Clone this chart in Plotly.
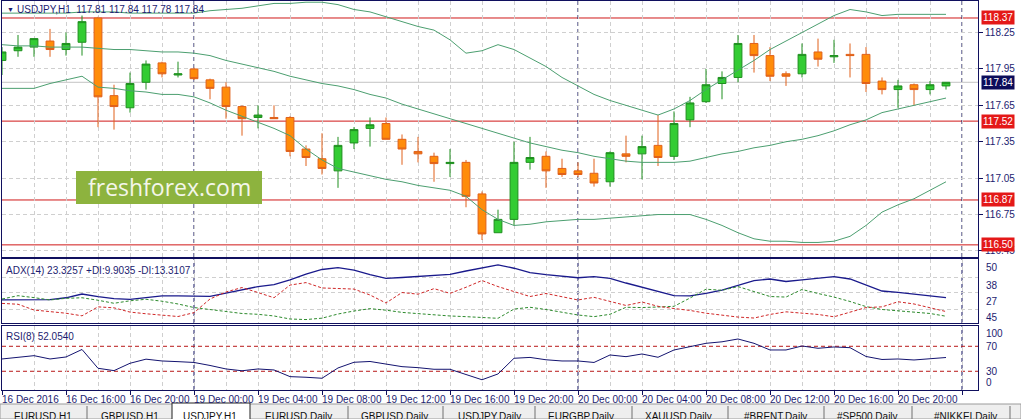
import numpy as np
import plotly.graph_objects as go

# USDJPY H1, one candle per hour, 16 Dec 2016 12:00 .. 20 Dec 2016 23:00
open_ = [118.02, 118.10, 118.13, 118.18, 118.11, 118.17, 118.37, 117.73, 117.63, 117.84,
         118.00, 117.90, 117.95, 117.86, 117.80, 117.64, 117.55, 117.55, 117.55, 117.29,
         117.21, 117.11, 117.34, 117.46, 117.50, 117.37, 117.27, 117.23, 117.17, 117.18,
         116.92, 116.60, 116.71, 117.18, 117.23, 117.13, 117.11, 117.09, 117.02, 117.25,
         117.25, 117.32, 117.23, 117.53, 117.68, 117.83, 117.88, 118.16, 118.06, 117.91,
         117.91, 118.09, 118.05, 118.07, 118.07, 117.85, 117.78, 117.82, 117.78, 117.81]
high = [118.13, 118.23, 118.20, 118.28, 118.25, 118.39, 118.38, 117.82, 117.92, 118.02,
        118.01, 118.01, 117.96, 117.87, 117.84, 117.65, 117.65, 117.65, 117.56, 117.32,
        117.42, 117.39, 117.47, 117.55, 117.55, 117.41, 117.39, 117.26, 117.29, 117.20,
        116.94, 116.79, 117.35, 117.39, 117.27, 117.21, 117.18, 117.21, 117.27, 117.40,
        117.40, 117.57, 117.60, 117.72, 117.95, 117.93, 118.23, 118.23, 118.13, 117.93,
        118.16, 118.20, 118.19, 118.16, 118.13, 117.88, 117.86, 117.83, 117.85, 117.84]
low = [117.90, 118.05, 118.05, 118.05, 118.06, 118.06, 117.47, 117.45, 117.59, 117.78,
       117.88, 117.88, 117.86, 117.70, 117.54, 117.40, 117.46, 117.54, 117.23, 117.15,
       117.08, 116.97, 117.29, 117.31, 117.37, 117.16, 117.18, 117.02, 117.06, 116.81,
       116.54, 116.60, 116.66, 117.12, 116.97, 117.06, 117.06, 116.98, 116.98, 117.18,
       117.04, 117.15, 117.20, 117.47, 117.67, 117.70, 117.84, 117.92, 117.85, 117.81,
       117.88, 117.97, 118.00, 117.88, 117.76, 117.74, 117.63, 117.65, 117.74, 117.78]
close = [118.09, 118.13, 118.20, 118.11, 118.16, 118.34, 117.72, 117.64, 117.83, 117.99,
         117.91, 117.91, 117.87, 117.79, 117.64, 117.54, 117.57, 117.54, 117.27, 117.22,
         117.13, 117.32, 117.45, 117.49, 117.37, 117.29, 117.25, 117.17, 117.18, 116.90,
         116.59, 116.71, 117.18, 117.22, 117.11, 117.08, 117.08, 117.01, 117.26, 117.23,
         117.31, 117.22, 117.50, 117.67, 117.82, 117.88, 118.16, 118.06, 117.89, 117.89,
         118.07, 118.03, 118.06, 118.06, 117.83, 117.78, 117.81, 117.78, 117.82, 117.84]

# Bollinger bands
bb_up = [118.41, 118.41, 118.41, 118.41, 118.41, 118.42, 118.42, 118.42, 118.41, 118.41,
         118.41, 118.41, 118.41, 118.43, 118.44, 118.45, 118.47, 118.49, 118.49, 118.50,
         118.50, 118.48, 118.44, 118.42, 118.38, 118.34, 118.30, 118.27, 118.19, 118.08,
         118.10, 118.15, 118.11, 118.04, 117.97, 117.88, 117.81, 117.74, 117.69, 117.65,
         117.61, 117.57, 117.62, 117.69, 117.78, 117.86, 117.94, 118.02, 118.11, 118.18,
         118.25, 118.32, 118.39, 118.44, 118.42, 118.39, 118.40, 118.40, 118.40, 118.40]
bb_mid = [118.15, 118.14, 118.14, 118.13, 118.13, 118.13, 118.12, 118.11, 118.11, 118.10,
          118.09, 118.09, 118.08, 118.06, 118.02, 117.99, 117.96, 117.93, 117.89, 117.86,
          117.83, 117.81, 117.78, 117.74, 117.71, 117.66, 117.62, 117.58, 117.54, 117.50,
          117.46, 117.42, 117.38, 117.34, 117.31, 117.28, 117.26, 117.23, 117.21, 117.19,
          117.18, 117.18, 117.18, 117.19, 117.22, 117.25, 117.27, 117.30, 117.32, 117.35,
          117.37, 117.40, 117.44, 117.49, 117.53, 117.59, 117.62, 117.65, 117.68, 117.71]
bb_low = [117.79, 117.79, 117.79, 117.83, 117.86, 117.89, 117.80, 117.79, 117.77, 117.76,
          117.74, 117.74, 117.72, 117.67, 117.61, 117.56, 117.51, 117.46, 117.40, 117.29,
          117.20, 117.13, 117.10, 117.07, 117.04, 117.02, 116.99, 116.97, 116.95, 116.90,
          116.79, 116.71, 116.66, 116.67, 116.69, 116.70, 116.71, 116.71, 116.72, 116.73,
          116.74, 116.75, 116.75, 116.75, 116.71, 116.66, 116.60, 116.55, 116.53, 116.53,
          116.52, 116.52, 116.53, 116.57, 116.66, 116.77, 116.83, 116.88, 116.95, 117.02]

# ADX(14)
adx = [21.7, 21.7, 21.7, 22.0, 23.3, 26.0, 24.2, 22.7, 22.2, 23.3,
       24.6, 24.6, 24.3, 24.3, 26.7, 29.3, 31.4, 32.8, 36.2, 40.5,
       43.8, 45.1, 43.4, 40.1, 37.4, 38.0, 38.7, 39.4, 40.3, 42.7,
       45.1, 47.2, 44.7, 41.6, 40.1, 39.1, 37.8, 38.6, 37.4, 34.0,
       31.1, 27.8, 24.9, 24.6, 26.4, 28.9, 32.5, 35.8, 36.9, 35.1,
       36.2, 37.2, 38.6, 36.9, 32.5, 28.2, 27.2, 26.0, 24.6, 23.33]
plus_di = [22.4, 24.8, 23.4, 21.7, 22.9, 23.3, 21.5, 19.3, 21.1, 22.2,
           20.8, 18.8, 16.2, 14.8, 13.3, 11.9, 11.3, 10.1, 7.9, 7.5,
           8.5, 11.5, 13.7, 15.4, 14.3, 12.7, 11.8, 10.8, 10.1, 9.6,
           9.1, 8.4, 15.1, 16.4, 14.8, 12.6, 10.8, 9.6, 11.3, 16.4,
           16.2, 16.6, 17.1, 23.1, 29.5, 28.7, 31.4, 27.8, 24.2, 23.8,
           29.3, 26.4, 23.8, 20.6, 16.9, 14.8, 13.7, 13.0, 11.9, 9.90]
minus_di = [19.2, 18.6, 14.4, 13.2, 12.1, 10.2, 16.7, 16.0, 12.9, 11.7,
            10.6, 9.7, 12.5, 22.4, 27.5, 30.7, 27.1, 23.3, 32.5, 34.3,
            30.4, 29.9, 29.6, 25.3, 19.5, 27.1, 25.9, 29.9, 26.5, 30.9,
            35.8, 31.4, 27.8, 24.2, 26.4, 23.8, 21.7, 23.6, 20.9, 17.7,
            20.2, 17.1, 15.5, 14.1, 12.1, 10.6, 9.3, 8.6, 11.2, 13.1,
            12.2, 11.2, 9.5, 12.9, 16.2, 16.7, 20.4, 18.8, 16.2, 13.31]

# RSI(8)
rsi = [49.7, 52.1, 55.0, 49.7, 52.9, 64.9, 34.8, 31.0, 42.8, 49.4,
       46.5, 45.4, 44.1, 39.3, 33.7, 30.8, 33.7, 32.1, 21.4, 20.4,
       18.8, 35.3, 44.4, 45.7, 41.4, 37.4, 35.8, 33.2, 33.2, 24.4,
       16.4, 25.7, 50.8, 52.2, 48.4, 46.5, 46.5, 44.1, 56.1, 53.4,
       57.7, 52.4, 64.1, 69.4, 74.8, 77.2, 81.7, 74.8, 64.1, 64.1,
       70.5, 66.8, 68.9, 67.8, 53.7, 48.9, 49.7, 48.1, 50.5, 52.05]

levels = [118.37, 117.52, 116.87, 116.50]
last_price = 117.84
price_ticks = [118.25, 117.95, 117.65, 117.35, 117.05, 116.75, 116.45]
day_breaks = [12, 36, 60]
time_labels = ['16 Dec 2016', '16 Dec 16:00', '16 Dec 20:00', '19 Dec 00:00', '19 Dec 04:00',
               '19 Dec 08:00', '19 Dec 12:00', '19 Dec 16:00', '19 Dec 20:00', '20 Dec 00:00',
               '20 Dec 04:00', '20 Dec 08:00', '20 Dec 12:00', '20 Dec 16:00', '20 Dec 20:00']
tabs = ['EURUSD,H1', 'GBPUSD,H1', 'USDJPY,H1', 'EURUSD,Daily', 'GBPUSD,Daily', 'USDJPY,Daily',
        'EURGBP,Daily', 'XAUUSD,Daily', '#BRENT,Daily', '#SP500,Daily', '#NIKKEI,Daily']

bar = np.arange(len(close))
tick_bars = list(range(0, len(close), 4))

W, H = 1021, 419
FONT = 'Liberation Sans'
NAVY = '#10105e'
TXT = '#1c1c70'


def px(x):
    return x / W


def py(y):
    return (H - y) / H


fig = go.Figure()

fig.add_trace(go.Candlestick(
    x=bar, open=open_, high=high, low=low, close=close,
    increasing=dict(line=dict(color='#1f8f1f', width=1), fillcolor='#33cc33'),
    decreasing=dict(line=dict(color='#e0601a', width=1), fillcolor='#ff8c0a'),
    whiskerwidth=0, xaxis='x', yaxis='y',
))
for band in (bb_up, bb_mid, bb_low):
    fig.add_trace(go.Scatter(x=bar, y=band, mode='lines', line=dict(color='#4c9f70', width=1),
                             xaxis='x', yaxis='y'))

fig.add_trace(go.Scatter(x=bar, y=adx, mode='lines', line=dict(color='#1a1a8c', width=1.3),
                         xaxis='x2', yaxis='y2'))
fig.add_trace(go.Scatter(x=bar, y=plus_di, mode='lines',
                         line=dict(color='#2e8b2e', width=1, dash='3px,2px'), xaxis='x2', yaxis='y2'))
fig.add_trace(go.Scatter(x=bar, y=minus_di, mode='lines',
                         line=dict(color='#d02828', width=1, dash='3px,2px'), xaxis='x2', yaxis='y2'))

fig.add_trace(go.Scatter(x=bar, y=rsi, mode='lines', line=dict(color='#141470', width=1),
                         xaxis='x3', yaxis='y3'))

grid = dict(showgrid=True, gridcolor='#cfcfcf', griddash='4px,3px', gridwidth=1)
frame = dict(showline=True, linecolor=NAVY, linewidth=1, mirror=True, zeroline=False)
xr = [0, 61]

fig.update_layout(
    width=W, height=H, margin=dict(l=0, r=0, t=0, b=0),
    paper_bgcolor='white', plot_bgcolor='white', showlegend=False,
    font=dict(family=FONT, size=10, color=TXT),
    xaxis=dict(domain=[px(2), px(978)], range=xr, anchor='y', tick0=0, dtick=2,
               showticklabels=False, ticks='', rangeslider=dict(visible=False), **grid, **frame),
    yaxis=dict(domain=[py(257), py(1)], range=[116.40, 118.51], anchor='x', side='right',
               tickvals=price_ticks, ticktext=['%.2f' % v for v in price_ticks],
               ticks='outside', ticklen=4, tickcolor=NAVY,
               tickfont=dict(family=FONT, size=10, color=TXT), **grid, **frame),
    xaxis2=dict(domain=[px(2), px(978)], range=xr, anchor='y2', tick0=0, dtick=2,
                showticklabels=False, ticks='', **grid, **frame),
    yaxis2=dict(domain=[py(323), py(259)], range=[5.0, 51.4], anchor='x2', side='right',
                tickvals=[38, 27, 15], showticklabels=False, ticks='', **grid, **frame),
    xaxis3=dict(domain=[px(2), px(978)], range=xr, anchor='y3', tick0=0, dtick=4,
                showticklabels=False, ticks='outside', ticklen=4, tickcolor=NAVY,
                minor=dict(dtick=2, tick0=0, showgrid=True, gridcolor='#cfcfcf', griddash='4px,3px'),
                **grid, **frame),
    yaxis3=dict(domain=[py(390), py(326)], range=[0, 102.5], anchor='x3', side='right',
                showgrid=False, showticklabels=False, ticks='', **frame),
)

shapes = []
# support / resistance lines
for lv in levels:
    shapes.append(dict(type='line', xref='x domain', yref='y', x0=0, x1=1, y0=lv, y1=lv,
                       line=dict(color='#d01818', width=1), layer='below'))
shapes.append(dict(type='line', xref='x domain', yref='y', x0=0, x1=1, y0=last_price, y1=last_price,
                   line=dict(color='#c4c4c4', width=1), layer='below'))
# day separators
for xa, ya in (('x', 'y domain'), ('x2', 'y2 domain'), ('x3', 'y3 domain')):
    for d in day_breaks:
        shapes.append(dict(type='line', xref=xa, yref=ya, x0=d, x1=d, y0=0, y1=1,
                           line=dict(color=NAVY, width=1, dash='4px,3px'), layer='below'))
# RSI levels
for lv in (70, 30):
    shapes.append(dict(type='line', xref='x3 domain', yref='y3', x0=0, x1=1, y0=lv, y1=lv,
                       line=dict(color='#b81818', width=1, dash='4px,3px'), layer='below'))
# watermark
shapes.append(dict(type='rect', xref='paper', yref='paper', x0=px(76), x1=px(262), y0=py(204), y1=py(171),
                   fillcolor='#8db33e', line=dict(width=0), layer='above'))
# tab strip
shapes.append(dict(type='rect', xref='paper', yref='paper', x0=0, x1=1, y0=0, y1=py(404),
                   fillcolor='#eeeeee', line=dict(color='#9a9a9a', width=1), layer='above'))
shapes.append(dict(type='rect', xref='paper', yref='paper', x0=px(172), x1=px(250), y0=-0.01, y1=py(403),
                   fillcolor='white', line=dict(color='#202020', width=1), layer='above'))
for sx in (87, 348, 443, 535, 632, 728, 824, 912, 1010):
    shapes.append(dict(type='line', xref='paper', yref='paper', x0=px(sx), x1=px(sx), y0=0, y1=py(406),
                       line=dict(color='#707070', width=1), layer='above'))
fig.update_layout(shapes=shapes)

ann = []
# indicator captions
ann.append(dict(xref='paper', yref='paper', x=px(5), y=py(9), text='▼', showarrow=False,
                xanchor='left', yanchor='middle', font=dict(size=7, color=TXT)))
ann.append(dict(xref='paper', yref='paper', x=px(15), y=py(9),
                text='USDJPY,H1  %.2f %.2f %.2f %.2f' % (open_[-1], high[-1], low[-1], close[-1]),
                showarrow=False, xanchor='left', yanchor='middle', font=dict(size=10, color=TXT)))
ann.append(dict(xref='paper', yref='paper', x=px(4), y=py(270),
                text='ADX(14) 23.3257 +DI:9.9035 -DI:13.3107', showarrow=False,
                xanchor='left', yanchor='middle', font=dict(size=10, color=TXT)))
ann.append(dict(xref='paper', yref='paper', x=px(4), y=py(336), text='RSI(8) 52.0540', showarrow=False,
                xanchor='left', yanchor='middle', font=dict(size=10, color=TXT)))
# level price tags
for lv in levels:
    ann.append(dict(xref='paper', yref='y', x=px(981), y=lv, text='%.2f' % lv, showarrow=False,
                    xanchor='left', yanchor='middle', bgcolor='#e41818', borderpad=1,
                    font=dict(size=10, color='white')))
ann.append(dict(xref='paper', yref='y', x=px(981), y=last_price, text='%.2f' % last_price, showarrow=False,
                xanchor='left', yanchor='middle', bgcolor='#0c0c5a', borderpad=1,
                font=dict(size=10, color='white')))
# ADX scale
for v, t in ((51.4, '50'), (38, '38'), (27, '27'), (15, '45')):
    ann.append(dict(xref='paper', yref='y2', x=px(984), y=v, text=t, showarrow=False,
                    xanchor='left', yanchor='top', yshift=-1, font=dict(size=10, color=TXT)))
# RSI scale
for v, t, a in ((102.5, '100', 'top'), (70, '70', 'middle'), (30, '30', 'middle'), (0, '0', 'bottom')):
    ann.append(dict(xref='paper', yref='y3', x=px(984), y=v, text=t, showarrow=False,
                    xanchor='left', yanchor=a, font=dict(size=10, color=TXT)))
# time axis
for b, t in zip(tick_bars, time_labels):
    ann.append(dict(xref='x3', yref='paper', x=b, y=py(399), text=t, showarrow=False,
                    xanchor='left', yanchor='middle', xshift=-2, font=dict(size=10, color=TXT)))
# watermark text
ann.append(dict(xref='paper', yref='paper', x=px(169), y=py(187), text='freshforex.com', showarrow=False,
                xanchor='center', yanchor='middle', font=dict(family='Open Sans', size=23, color='#f4f6ea')))
# tabs (strip is cut by the window bottom, as in the screenshot)
for cx, t in zip((43, 130, 210, 298, 394, 489, 581, 678, 775, 867, 965), tabs):
    ann.append(dict(xref='paper', yref='paper', x=px(cx), y=py(416), text=t, showarrow=False,
                    xanchor='center', yanchor='middle', font=dict(size=10, color='#101010')))
fig.update_layout(annotations=ann)

fig.write_html("out.html", config={'displayModeBar': False},
               post_script="document.body.style.margin='0';document.body.style.overflow='hidden';")
